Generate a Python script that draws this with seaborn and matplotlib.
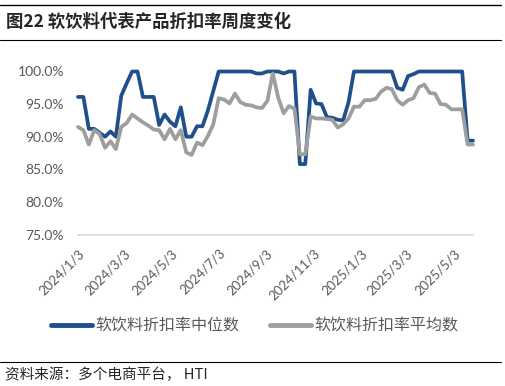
import pandas as pd
import matplotlib.pyplot as plt
import matplotlib.lines as mlines
import seaborn as sns

# weekly data, starting 2024/1/3
start_date = "2024-01-03"

median_rate = [
    96.1, 96.1, 91.2, 91.2, 90.6, 90.0, 90.8, 90.0, 96.3, 98.2,
    100.0, 100.0, 96.1, 96.1, 96.1, 91.8, 93.4, 92.3, 91.6, 94.5,
    90.0, 90.0, 91.6, 91.6, 94.0, 97.0, 100.0, 100.0, 100.0, 100.0,
    100.0, 100.0, 100.0, 99.7, 99.7, 100.0, 100.0, 100.0, 99.7, 100.0,
    100.0, 85.8, 85.8, 97.2, 95.1, 95.0, 93.0, 92.9, 92.6, 92.5,
    95.3, 100.0, 100.0, 100.0, 100.0, 100.0, 100.0, 100.0, 100.0, 97.5,
    97.2, 99.3, 99.6, 100.0, 100.0, 100.0, 100.0, 100.0, 100.0, 100.0,
    100.0, 100.0, 89.4, 89.4,
]

mean_rate = [
    91.5, 91.0, 88.8, 91.0, 90.4, 88.3, 89.3, 88.1, 91.5, 92.1,
    93.4, 92.8, 92.2, 91.7, 91.1, 91.0, 89.6, 91.2, 89.6, 91.0,
    87.6, 87.2, 89.1, 88.7, 90.1, 91.9, 95.9, 95.7, 95.1, 96.6,
    95.3, 94.9, 94.8, 94.5, 94.4, 95.5, 99.7, 96.0, 93.6, 94.7,
    94.3, 87.3, 87.3, 93.1, 92.8, 92.8, 92.7, 92.6, 91.4, 91.9,
    92.8, 94.6, 94.6, 95.6, 95.6, 95.8, 96.9, 97.5, 97.3, 95.6,
    94.9, 95.6, 95.9, 97.6, 98.0, 96.7, 96.6, 95.0, 94.9, 94.2,
    94.2, 94.2, 88.8, 88.8,
]

series_names = ["软饮料折扣率中位数", "软饮料折扣率平均数"]
tick_dates = ["2024-01-03", "2024-03-03", "2024-05-03", "2024-07-03", "2024-09-03",
              "2024-11-03", "2025-01-03", "2025-03-03", "2025-05-03"]
tick_labels = ["2024/1/3", "2024/3/3", "2024/5/3", "2024/7/3", "2024/9/3",
               "2024/11/3", "2025/1/3", "2025/3/3", "2025/5/3"]
y_ticks = [75, 80, 85, 90, 95, 100]

dates = pd.date_range(start_date, periods=len(median_rate), freq="7D")
df = pd.DataFrame({
    "date": list(dates) * 2,
    "rate": median_rate + mean_rate,
    "series": [series_names[0]] * len(median_rate) + [series_names[1]] * len(mean_rate),
})

sns.set_style("white")
plt.rcParams["font.family"] = ["Lato", "Noto Sans CJK SC", "DejaVu Sans"]

colors = ["#20508C", "#9E9E9E"]
cjk = ["Noto Sans CJK SC", "DejaVu Sans"]

fig = plt.figure(figsize=(5.06, 3.86), dpi=100)
ax = fig.add_axes([78 / 506, 1 - 234.5 / 386, 395 / 506, 163 / 386])

sns.lineplot(data=df, x="date", y="rate", hue="series", hue_order=series_names,
             palette=colors, linewidth=2.7, legend=False, ax=ax)
for ln in ax.get_lines():
    ln.set_clip_on(False)
    ln.set_solid_joinstyle("round")

ax.set_xlim(dates[0], dates[-1])
ax.set_ylim(75, 100)
ax.set_yticks(y_ticks)
ax.set_yticklabels([f"{v:.1f}%" for v in y_ticks])
ax.set_xticks(pd.to_datetime(tick_dates))
ax.set_xticklabels(tick_labels, rotation=45, ha="right", va="top", rotation_mode="anchor")
ax.tick_params(axis="y", length=0, pad=10, labelsize=10, labelcolor="#595959")
ax.tick_params(axis="x", length=0, pad=9, labelsize=9.5, labelcolor="#595959")
ax.set_xlabel("")
ax.set_ylabel("")
for s in ["top", "right", "left"]:
    ax.spines[s].set_visible(False)
ax.spines["bottom"].set_color("#D9D9D9")
ax.spines["bottom"].set_linewidth(1.2)

# legend
handles = [mlines.Line2D([], [], color=c, linewidth=3.5, solid_capstyle="round") for c in colors]
fig.legend(handles, series_names, loc="center", bbox_to_anchor=(0.503, 1 - 326 / 386),
           ncol=2, frameon=False, handlelength=2.6, handletextpad=0.2, columnspacing=1.9,
           prop={"family": cjk, "size": 11.5, "weight": "light"}, labelcolor="#595959")

# title and source
fig.add_artist(mlines.Line2D([0.0, 0.99], [1 - 5 / 386, 1 - 5 / 386], color="black", linewidth=1.0))
fig.add_artist(mlines.Line2D([0.0, 0.99], [1 - 40 / 386, 1 - 40 / 386], color="black", linewidth=0.8))
fig.text(0.012, 1 - 22 / 386, "图22 软饮料代表产品折扣率周度变化", family=cjk, fontsize=12.5,
         fontweight="bold", va="center", ha="left")
fig.add_artist(mlines.Line2D([0.0, 0.99], [1 - 362 / 386, 1 - 362 / 386], color="black", linewidth=0.8))
fig.text(0.01, 1 - 375 / 386, "资料来源：多个电商平台， HTI", family=cjk, fontsize=10.5,
         va="center", ha="left")

fig.savefig("out.png", dpi=100)
